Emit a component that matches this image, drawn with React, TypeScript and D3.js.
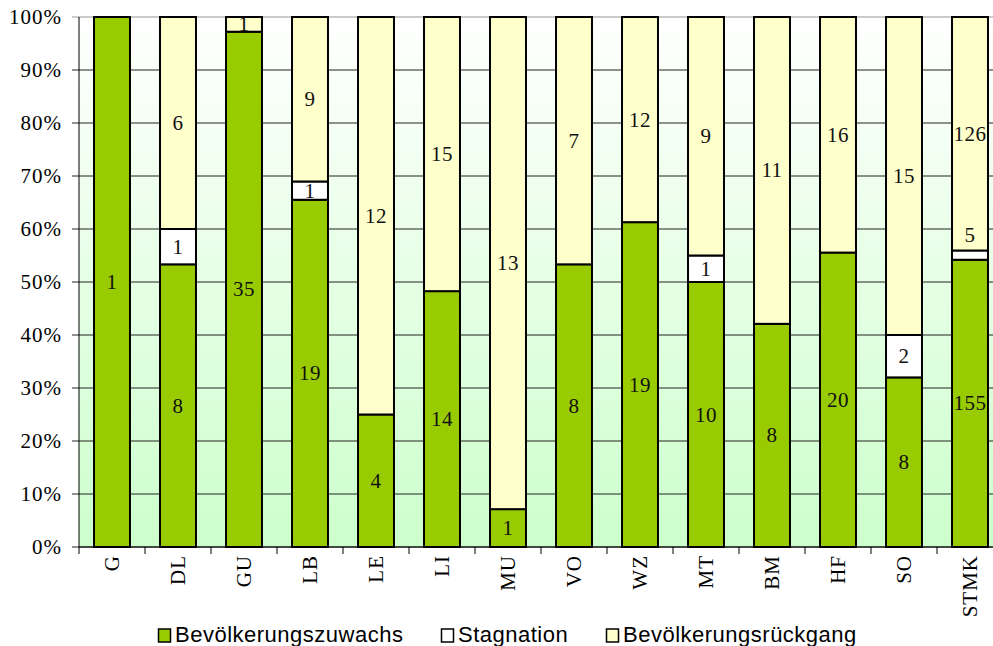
import * as d3 from 'd3';

// Regions (Bezirke) and number of municipalities per development class
const regions = ['G', 'DL', 'GU', 'LB', 'LE', 'LI', 'MU', 'VO', 'WZ', 'MT', 'BM', 'HF', 'SO', 'STMK'];
const growth = [1, 8, 35, 19, 4, 14, 1, 8, 19, 10, 8, 20, 8, 155];
const stagnation = [0, 1, 0, 1, 0, 0, 0, 0, 0, 1, 0, 0, 2, 5];
const decline = [0, 6, 1, 9, 12, 15, 13, 7, 12, 9, 11, 16, 15, 126];
const seriesNames = ['Bevölkerungszuwachs', 'Stagnation', 'Bevölkerungsrückgang'];
const yTicks = [0, 0.1, 0.2, 0.3, 0.4, 0.5, 0.6, 0.7, 0.8, 0.9, 1];

const colors = ['#99cc00', '#ffffff', '#ffffcc'];
const serif = '"Liberation Serif", "Times New Roman", serif';
const sans = '"Liberation Sans", Arial, sans-serif';

export default function App() {
  const width = 993;
  const height = 646;
  const margin = { top: 17, left: 79, bottom: 547 };
  const plotRight = 1003; // plot continues past the right edge of the picture

  const table = regions.map((r, i) => ({
    region: r,
    growth: growth[i],
    stagnation: stagnation[i],
    decline: decline[i],
  }));

  const keys = ['growth', 'stagnation', 'decline'];
  const stacked = d3
    .stack<any>()
    .keys(keys)
    .offset(d3.stackOffsetExpand)(table);

  const xScale = d3
    .scaleBand()
    .domain(regions)
    .range([margin.left, plotRight])
    .paddingInner(0.455)
    .paddingOuter(0.2275);

  const yScale = d3.scaleLinear().domain([0, 1]).range([margin.bottom, margin.top]);

  const pct = d3.format('.0%');

  return (
    <svg
      width={width}
      height={height}
      style={{ position: 'absolute', left: 0, top: 0, background: '#fff' }}
    >
      <defs>
        <linearGradient id="bg" x1="0" y1="0" x2="0" y2="1">
          <stop offset="0%" stopColor="#ffffff" />
          <stop offset="100%" stopColor="#ccffcc" />
        </linearGradient>
      </defs>

      {/* plot background */}
      <rect
        x={margin.left}
        y={margin.top}
        width={plotRight - margin.left}
        height={margin.bottom - margin.top}
        fill="url(#bg)"
      />

      {/* gridlines and y ticks */}
      {yTicks.map((t) => (
        <g key={t}>
          <line
            x1={margin.left - 7}
            x2={plotRight}
            y1={yScale(t)}
            y2={yScale(t)}
            stroke={t === 1 ? '#999' : '#222'}
            strokeWidth={1}
          />
          <text
            x={margin.left - 17}
            y={yScale(t)}
            textAnchor="end"
            dominantBaseline="central"
            fontFamily={serif}
            fontSize={21}
            letterSpacing={1}
            fill="#000"
          >
            {pct(t)}
          </text>
        </g>
      ))}

      {/* bars */}
      {stacked.map((layer, si) => (
        <g key={layer.key}>
          {layer.map((d, i) => {
            const h = yScale(d[0]) - yScale(d[1]);
            if (h <= 0) return null;
            return (
              <rect
                key={regions[i]}
                x={xScale(regions[i])}
                y={yScale(d[1])}
                width={xScale.bandwidth()}
                height={h}
                fill={colors[si]}
                stroke="#000"
                strokeWidth={2}
              />
            );
          })}
        </g>
      ))}

      {/* value labels (very thin segments get their label just above) */}
      {stacked.map((layer) => (
        <g key={'lbl-' + layer.key}>
          {layer.map((d, i) => {
            const v = (d.data as any)[layer.key];
            if (!v) return null;
            const h = yScale(d[0]) - yScale(d[1]);
            const y = h < 12 ? yScale(d[1]) - 15 : yScale((d[0] + d[1]) / 2);
            return (
              <text
                key={regions[i]}
                x={(xScale(regions[i]) as number) + xScale.bandwidth() / 2}
                y={y}
                textAnchor="middle"
                dominantBaseline="central"
                fontFamily={serif}
                fontSize={21}
                letterSpacing={0.5}
                fill="#111"
              >
                {v}
              </text>
            );
          })}
        </g>
      ))}

      {/* axes */}
      <line x1={margin.left} x2={margin.left} y1={margin.top} y2={margin.bottom} stroke="#000" />
      <line x1={margin.left} x2={plotRight} y1={margin.bottom} y2={margin.bottom} stroke="#000" />
      {d3.range(regions.length + 1).map((i) => {
        const x = margin.left + i * xScale.step();
        return <line key={i} x1={x} x2={x} y1={margin.bottom} y2={margin.bottom + 7} stroke="#000" />;
      })}
      {regions.map((r) => {
        const cx = (xScale(r) as number) + xScale.bandwidth() / 2;
        const ty = 555;
        return (
          <text
            key={r}
            transform={`translate(${cx},${ty}) rotate(-90)`}
            textAnchor="end"
            dominantBaseline="central"
            fontFamily={serif}
            fontSize={21}
            letterSpacing={1}
            fill="#000"
          >
            {r}
          </text>
        );
      })}

      {/* legend */}
      {seriesNames.map((name, i) => {
        const lx = [158, 441, 606][i];
        return (
          <g key={name} transform={`translate(${lx},629)`}>
            <rect x={0.5} y={0} width={12} height={13} fill={colors[i]} stroke="#000" strokeWidth={1.5} />
            <text x={17} y={13} fontFamily={sans} fontSize={22} letterSpacing={0.5} fill="#000">
              {name}
            </text>
          </g>
        );
      })}
    </svg>
  );
}
